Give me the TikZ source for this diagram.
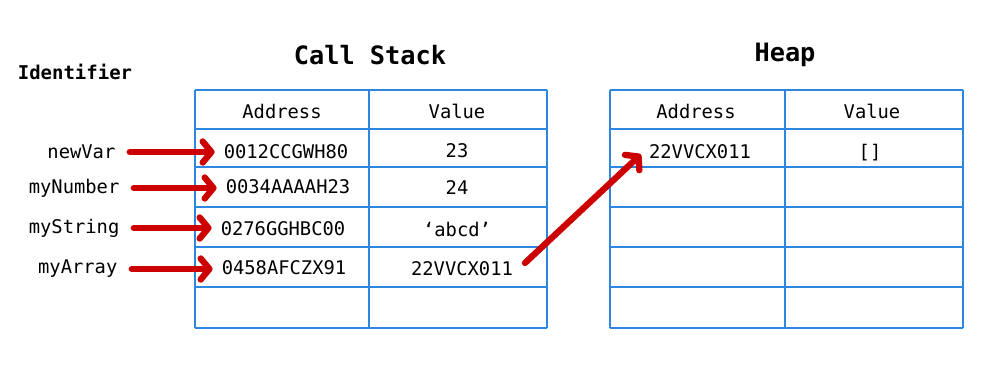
\documentclass[tikz,border=0pt]{standalone}
\usepackage{fontspec}
\setmonofont{DejaVu Sans Mono}
\usetikzlibrary{arrows.meta}
\definecolor{lineblue}{HTML}{2D87E1}
\definecolor{ptrred}{HTML}{CC0000}

\begin{document}
\begin{tikzpicture}[x=0.02cm,y=-0.02cm,
  tabline/.style={lineblue,line width=1.1pt},
  cell/.style={font=\ttfamily\fontsize{10.7}{13}\selectfont,inner sep=3pt},
  ident/.style={cell,anchor=east},
  title/.style={font=\ttfamily\bfseries\fontsize{14.4}{17}\selectfont},
  ptr/.style={ptrred,line width=3.6pt,-{Straight Barb[length=5pt,width=12pt,round]},
    line cap=round,shorten <=5pt,shorten >=2pt}]
\useasboundingbox (0,0) rectangle (988,379);
\fill[white] (0,0) rectangle (988,379);
% tables
\foreach \y in {90,129,167,207,247,287,328} {
  \draw[tabline] (195,\y) -- (547,\y);
  \draw[tabline] (610,\y) -- (963,\y);
}
\foreach \x in {195,369,547,610,785,963}
  \draw[tabline] (\x,90) -- (\x,328);
% titles
\node[title] (cstitle) at (370,55) {Call Stack};
\node[title] (hptitle) at (785,55) {Heap};
\node[font=\ttfamily\bfseries\fontsize{10.8}{12}\selectfont] (idtitle) at (75,72) {Identifier};
\node[cell] (csaddr) at (282,111) {Address};
\node[cell] (csval) at (457,111) {Value};
\node[cell] (hpaddr) at (696,111) {Address};
\node[cell] (hpval) at (872,111) {Value};
% call stack rows
\node[ident] (newvar) at (121,152) {newVar};
\node[ident] (mynumber) at (125,188) {myNumber};
\node[ident] (mystring) at (125,228) {myString};
\node[ident] (myarray) at (123,269) {myArray};
\node[cell] (a1) at (286,152) {0012CCGWH80};
\node[cell] (a2) at (288,187) {0034AAAAH23};
\node[cell] (a3) at (283,229) {0276GGHBC00};
\node[cell] (a4) at (284,268) {0458AFCZX91};
\node[cell] (v1) at (457,151) {23};
\node[cell] (v2) at (457,188) {24};
\node[cell] (v3) at (457,229) {‘abcd’};
\node[cell] (v4) at (462,269) {22VVCX011};
% heap row
\node[cell] (h1) at (700,152) {22VVCX011};
\node[cell] (hv1) at (870,153) {[]};
% pointers
\draw[ptr] (newvar.east) -- (newvar.east -| a1.west);
\draw[ptr] (mynumber.east) -- (mynumber.east -| a2.west);
\draw[ptr] (mystring.east) -- (mystring.east -| a3.west);
\draw[ptr] (myarray.east) -- (myarray.east -| a4.west);
\draw[ptr] (v4.east) -- (h1.west);
\end{tikzpicture}
\end{document}
